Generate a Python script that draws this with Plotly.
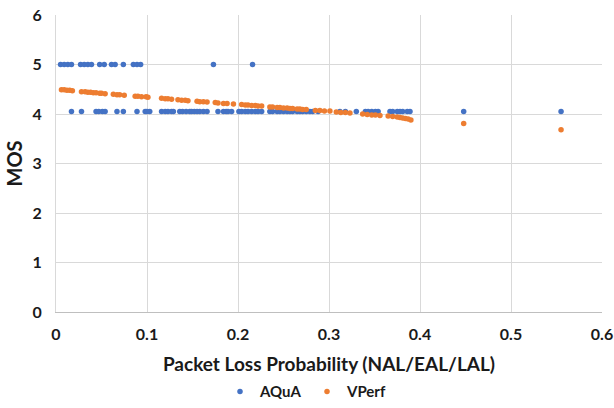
import plotly.graph_objects as go

# AQuA data
aqua_x = [0.005, 0.009, 0.013, 0.017, 0.027, 0.031, 0.035, 0.039, 0.048, 0.053, 0.061, 0.065,
          0.074, 0.085, 0.089, 0.093, 0.173, 0.216,
          0.017, 0.028, 0.044, 0.047, 0.051, 0.054, 0.067, 0.074, 0.089, 0.098, 0.100, 0.103,
          0.116, 0.120, 0.123, 0.127, 0.129, 0.136, 0.139, 0.143, 0.147, 0.149, 0.152, 0.155,
          0.158, 0.162, 0.166, 0.178, 0.184, 0.187, 0.189, 0.193, 0.201, 0.204, 0.208, 0.211,
          0.215, 0.219, 0.222, 0.226, 0.235, 0.238, 0.243, 0.246, 0.250, 0.254, 0.257, 0.260,
          0.265, 0.268, 0.271, 0.275, 0.279, 0.282, 0.288, 0.312, 0.318, 0.330, 0.340, 0.343,
          0.347, 0.351, 0.354, 0.367, 0.370, 0.375, 0.378, 0.381, 0.386, 0.389, 0.448, 0.555]
aqua_y = [5.0] * 18 + [4.05] * 72

# VPerf data
vperf_x = [0.006, 0.009, 0.012, 0.015, 0.018,
           0.028, 0.032, 0.035, 0.038, 0.041, 0.044, 0.048, 0.050, 0.054,
           0.063, 0.067, 0.070, 0.075,
           0.087, 0.090, 0.094, 0.099, 0.101,
           0.116, 0.120, 0.123, 0.127,
           0.134, 0.138, 0.142, 0.145,
           0.155, 0.158, 0.162, 0.166,
           0.175, 0.178, 0.184, 0.188,
           0.195, 0.204, 0.208, 0.211, 0.215, 0.219, 0.222, 0.226,
           0.235, 0.238, 0.243, 0.246, 0.250, 0.254, 0.257, 0.260, 0.265, 0.268, 0.271, 0.275,
           0.285, 0.290, 0.295, 0.301,
           0.308, 0.313, 0.318, 0.323,
           0.337, 0.342, 0.347, 0.351, 0.356,
           0.365, 0.370, 0.375, 0.378, 0.381, 0.384, 0.387, 0.390,
           0.448, 0.555]
vperf_y = [4.49, 4.49, 4.48, 4.48, 4.47,
           4.45, 4.45, 4.44, 4.44, 4.43, 4.43, 4.42, 4.42, 4.41,
           4.40, 4.39, 4.39, 4.38,
           4.36, 4.36, 4.35, 4.35, 4.34,
           4.32, 4.31, 4.31, 4.30,
           4.29, 4.28, 4.28, 4.27,
           4.26, 4.25, 4.25, 4.24,
           4.23, 4.22, 4.21, 4.21,
           4.20, 4.19, 4.18, 4.18, 4.17, 4.17, 4.16, 4.16,
           4.14, 4.14, 4.13, 4.13, 4.12, 4.12, 4.11, 4.11, 4.10, 4.10, 4.09, 4.09,
           4.07, 4.07, 4.06, 4.06,
           4.04, 4.03, 4.03, 4.02,
           4.00, 3.99, 3.98, 3.98, 3.97,
           3.96, 3.95, 3.94, 3.93, 3.92, 3.91, 3.90, 3.88,
           3.81, 3.68]

x_ticks = [0, 0.1, 0.2, 0.3, 0.4, 0.5, 0.6]
x_tick_labels = ["0", "0.1", "0.2", "0.3", "0.4", "0.5", "0.6"]
y_ticks = [0, 1, 2, 3, 4, 5, 6]

FONT = "Lato"
BLUE = "#4472C4"
ORANGE = "#ED7D31"
TXT = "#1a1a1a"

fig = go.Figure()
fig.add_trace(go.Scatter(x=aqua_x, y=aqua_y, mode="markers", name="AQuA",
                         marker=dict(color=BLUE, size=5.5)))
fig.add_trace(go.Scatter(x=vperf_x, y=vperf_y, mode="markers", name="VPerf",
                         marker=dict(color=ORANGE, size=5.5)))

fig.update_layout(
    width=614, height=408,
    margin=dict(l=56, r=12, t=15, b=96),
    paper_bgcolor="white", plot_bgcolor="white",
    font=dict(family=FONT, color=TXT),
    showlegend=True,
    legend=dict(orientation="h", xref="container", yref="container",
                x=0.5, xanchor="center", y=0.04, yanchor="middle",
                font=dict(family=FONT, size=15, color=TXT, weight="bold"),
                itemsizing="trace", tracegroupgap=0, itemwidth=30,
                entrywidth=42, entrywidthmode="pixels"),
)
fig.update_xaxes(
    range=[0, 0.6], tickvals=x_ticks, ticktext=x_tick_labels, automargin=False,
    showgrid=True, gridcolor="#D9D9D9", gridwidth=1,
    showline=True, linecolor="#BFBFBF", linewidth=1,
    zeroline=False, ticks="", ticklabelstandoff=8,
    tickfont=dict(family=FONT, size=16, color=TXT, weight="bold"),
    title=dict(text="Packet Loss Probability (NAL/EAL/LAL)", standoff=26,
               font=dict(family=FONT, size=19, color=TXT, weight="bold")),
)
fig.update_yaxes(
    range=[0, 6], tickvals=y_ticks, automargin=False,
    showgrid=True, gridcolor="#D9D9D9", gridwidth=1,
    showline=True, linecolor="#D9D9D9", linewidth=1,
    zeroline=False, ticks="", ticklabelstandoff=10,
    tickfont=dict(family=FONT, size=16, color=TXT, weight="bold"),
    title=dict(text="MOS", standoff=4,
               font=dict(family=FONT, size=20, color=TXT, weight="bold")),
)

fig.write_html("out.html")
